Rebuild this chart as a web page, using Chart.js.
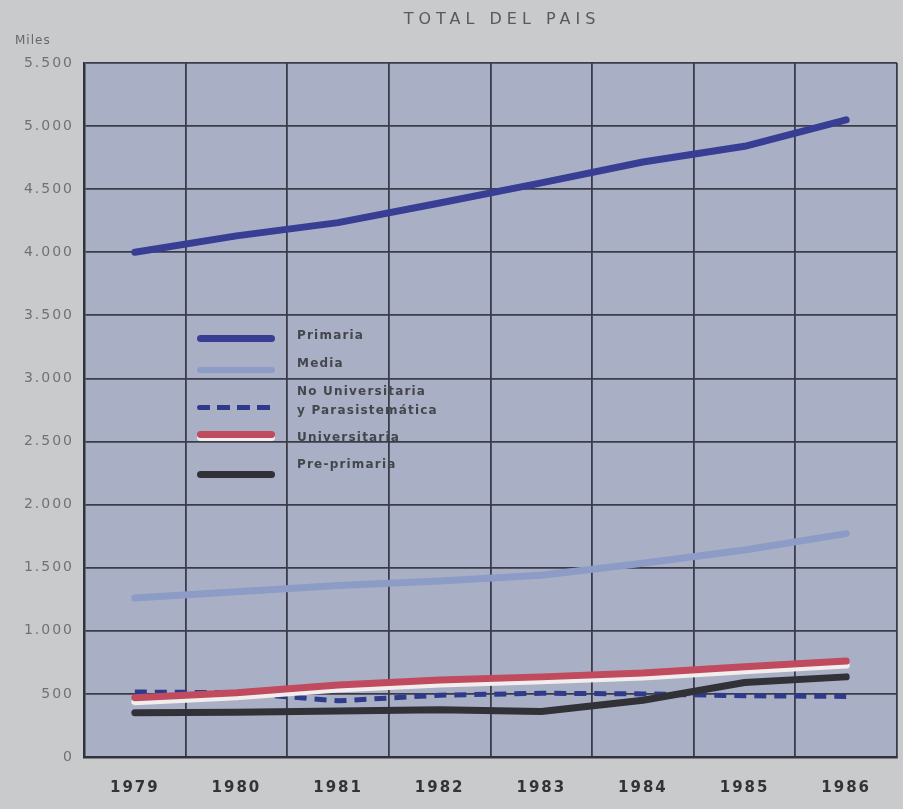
<!DOCTYPE html>
<html>
<head>
<meta charset="utf-8">
<script src="https://cdn.jsdelivr.net/npm/chart.js@4"></script>
<style>
  body { margin: 0; background: #c9cacb; }
  #wrap { position: relative; width: 903px; height: 809px; }
  canvas { position: absolute; left: 0; top: 0; }
  .txt { position: absolute; font-family: "DejaVu Sans", sans-serif; color: #4a4b50; white-space: nowrap; }
  #title { left: 0; width: 1004px; top: 9px; text-align: center; font-size: 16px; letter-spacing: 5px; color: #58595d; }
  #miles { left: 15px; top: 33px; font-size: 12px; letter-spacing: 1px; color: #66676b; }
  .lg { font-size: 12px; font-weight: bold; letter-spacing: 1.2px; color: #45464c; left: 297px; }
  .sw { position: absolute; left: 197px; width: 78px; height: 7px; border-radius: 4px; }
</style>
</head>
<body>
<div id="wrap">
  <canvas id="myChart" width="903" height="809"></canvas>
  <div class="txt" id="title">TOTAL DEL PAIS</div>
  <div class="txt" id="miles">Miles</div>

  <div class="sw" style="top:335px;background:#383e93;"></div>
  <div class="txt lg" style="top:328px;">Primaria</div>
  <div class="sw" style="top:367px;background:#8d9bc7;height:6px;"></div>
  <div class="txt lg" style="top:356px;">Media</div>
  <div class="sw" style="top:405px;height:5px;background:repeating-linear-gradient(90deg,#2f3a8a 0 13px,transparent 13px 20px);"></div>
  <div class="txt lg" style="top:384px;">No Universitaria</div>
  <div class="txt lg" style="top:403px;">y Parasistemática</div>
  <div class="sw" style="top:431px;background:#c04a5e;box-shadow:0 3px 0 #f2eeee;"></div>
  <div class="txt lg" style="top:430px;">Universitaria</div>
  <div class="sw" style="top:471px;background:#303238;"></div>
  <div class="txt lg" style="top:457px;">Pre-primaria</div>
</div>
<script>
// data (thousands)
const years = ['1979', '1980', '1981', '1982', '1983', '1984', '1985', '1986'];
const primaria = [4000, 4130, 4235, 4390, 4550, 4715, 4840, 5050];
const media = [1260, 1310, 1360, 1395, 1440, 1535, 1640, 1770];
const noUniversitaria = [515, 510, 445, 490, 505, 500, 485, 480];
const universitaria = [470, 510, 570, 610, 635, 665, 715, 760];
const prePrimaria = [350, 355, 365, 375, 360, 450, 590, 635];
const yMax = 5500;
const yStep = 500;

const gridColor = '#3a3d49';

// plot background + letter spacing for canvas text
const paperPlugin = {
    id: 'paper',
    beforeDraw(chart) {
        const { ctx, chartArea: a } = chart;
        ctx.save();
        ctx.fillStyle = '#a9b0c5';
        ctx.fillRect(a.left, a.top, a.right - a.left, a.bottom - a.top);
        ctx.restore();
        ctx.letterSpacing = '2px';
    },
    // white strip under the red line
    beforeDatasetDraw(chart, args) {
        if (args.meta.label === 'Universitaria') {
            chart.ctx.save();
            chart.ctx.shadowColor = '#f2eeee';
            chart.ctx.shadowOffsetY = 4;
            chart.ctx.shadowBlur = 0;
        }
    },
    afterDatasetDraw(chart, args) {
        if (args.meta.label === 'Universitaria') chart.ctx.restore();
    }
};

const ctx = document.getElementById('myChart').getContext('2d');
const myChart = new Chart(ctx, {
    type: 'line',
    data: {
        labels: years,
        datasets: [
            { label: 'Primaria', data: primaria, borderColor: '#383e93', borderWidth: 7, order: 1 },
            { label: 'Media', data: media, borderColor: '#8d9bc7', borderWidth: 7, order: 2 },
            { label: 'No Universitaria y Parasistemática', data: noUniversitaria, borderColor: '#2f3a8a',
              borderWidth: 5, borderDash: [12, 8], borderCapStyle: 'butt', order: 5 },
            { label: 'Universitaria', data: universitaria, borderColor: '#c04a5e', borderWidth: 7, order: 3 },
            { label: 'Pre-primaria', data: prePrimaria, borderColor: '#303238', borderWidth: 7, order: 4 }
        ].map(d => Object.assign({ pointRadius: 0, tension: 0, fill: false, borderCapStyle: 'round', borderJoinStyle: 'round' }, d))
    },
    options: {
        responsive: false,
        animation: false,
        layout: { padding: { top: 63, right: 6 } },
        plugins: { legend: { display: false }, tooltip: { enabled: false } },
        scales: {
            x: {
                offset: true,
                afterFit: s => { s.height = 52; },
                grid: { offset: true, color: gridColor, lineWidth: 1.8, drawTicks: false },
                border: { color: '#30323c', width: 2.5 },
                ticks: { padding: 22, color: '#333438', font: { family: 'DejaVu Sans', size: 15, weight: 'bold' } }
            },
            y: {
                min: 0,
                max: yMax,
                afterFit: s => { s.width = 84; },
                grid: { color: gridColor, lineWidth: 1.8, drawTicks: false },
                border: { color: '#30323c', width: 2.5 },
                ticks: {
                    stepSize: yStep,
                    padding: 10,
                    color: '#707176',
                    font: { family: 'DejaVu Sans', size: 14 },
                    callback: v => v.toLocaleString('de-DE')
                }
            }
        }
    },
    plugins: [paperPlugin]
});
</script>
</body>
</html>
